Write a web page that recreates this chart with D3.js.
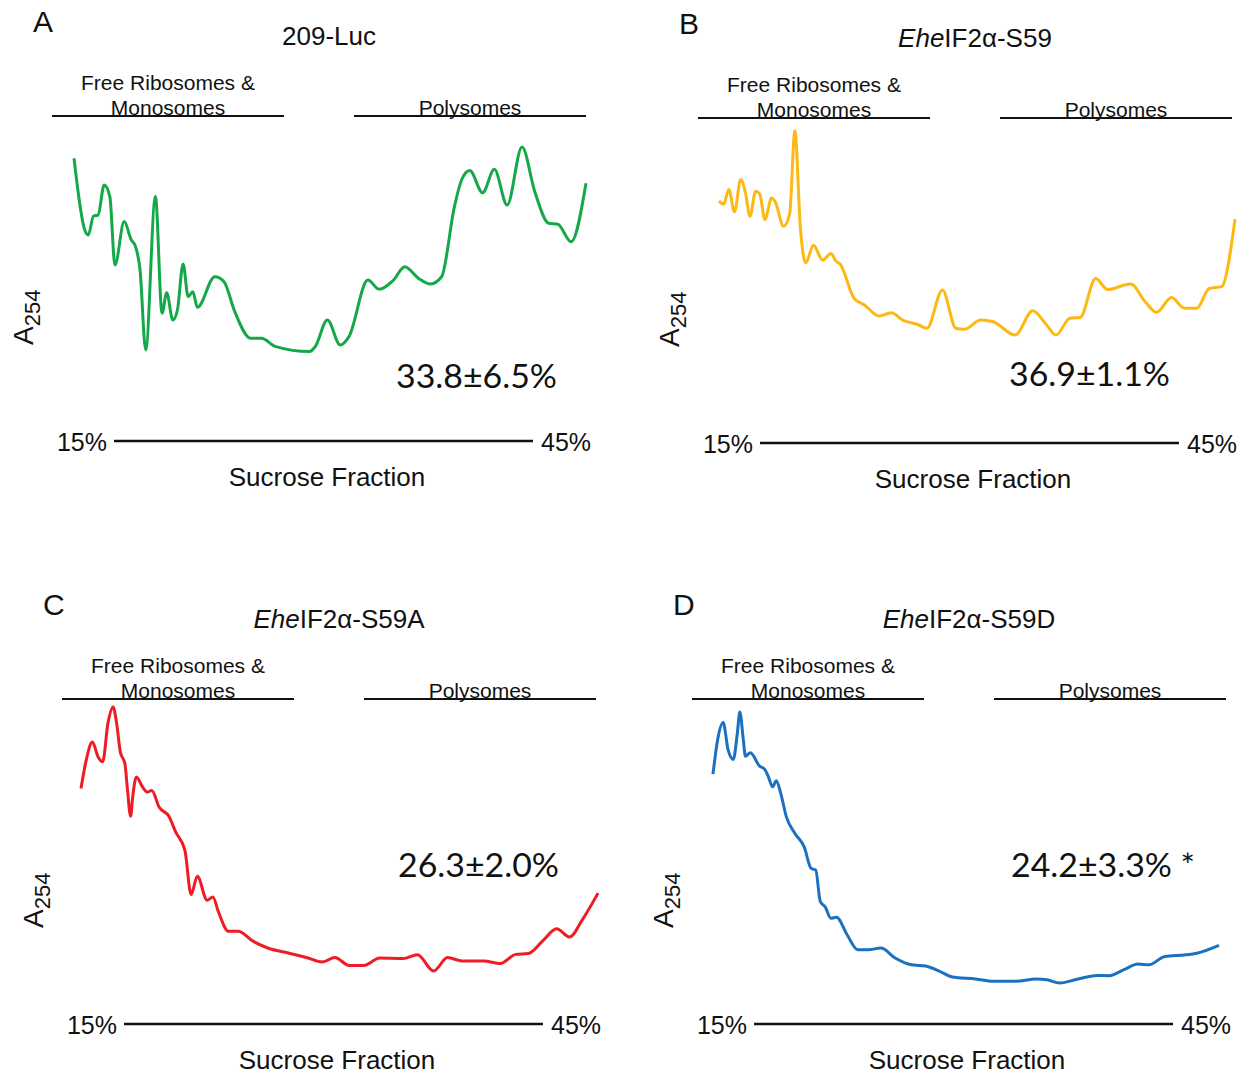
<!DOCTYPE html>
<html>
<head>
<meta charset="utf-8">
<script src="https://cdn.jsdelivr.net/npm/d3@7"></script>
<style>
  body { margin: 0; background: #fff; }
  text { font-family: "Liberation Sans", Arial, sans-serif; fill: #111; }
</style>
</head>
<body>
<div id="chart"></div>
<script>
// relative A254 traces, x = position along the gradient (0-100), y = relative absorbance (0-100)
luc209 = [[0,94.5],[2.1,59.5],[2.8,57.1],[3.8,66.3],[4.7,66.8],[5.9,81.5],[7.0,75.8],[8.0,42.4],[9.8,63.6],
  [11.2,54.6],[11.9,52.2],[12.9,40.0],[14.0,1.0],[15.9,75.8],[17.2,18.9],[18.1,28.9],[19.3,15.6],[20.2,20.5],
  [21.3,42.9],[22.3,27.0],[23.2,29.4],[24.1,21.8],[27.5,36.7],[29.3,34.3],[31.4,19.7],[34.5,6.7],[36.6,6.7],
  [39.4,2.6],[46.0,0.2],[47.1,2.6],[49.5,15.6],[52.0,3.4],[53.7,7.5],[57.4,35.1],[59.6,30.6],[62.4,35.1],
  [64.6,41.6],[67.3,35.9],[69.6,33.2],[71.8,36.7],[74.3,70.9],[75.7,83.9],[77.3,88.5],[79.8,77.7],[82.1,89.1],
  [84.6,71.7],[87.5,100],[90.0,78.2],[92.7,62.8],[94.5,62.3],[97.1,53.8],[100,82.3]]

s59 = [[0,65.6],[0.9,64.1],[1.9,71.3],[3.0,60.4],[4.2,76.2],[5.1,70.1],[6.0,58.2],[7.1,70.5],[7.9,69.0],
  [8.9,56.6],[10.2,67.2],[10.9,65.3],[12.5,53.3],[13.7,59.5],[14.7,100],[15.8,51.4],[16.8,35.4],[18.3,44.0],
  [20.1,36.7],[21.7,40.0],[22.6,36.4],[23.5,34.7],[26.2,17.9],[28.2,14.7],[31.0,9.3],[33.4,10.9],[35.8,7.0],
  [38.3,5.4],[40.3,3.3],[43.3,22.0],[45.9,3.3],[47.6,2.8],[50.7,7.3],[53.1,6.5],[57.4,0],[60.8,11.9],
  [63.5,4.9],[65.3,0],[68.0,8.2],[70.0,8.6],[73.0,27.7],[75.3,22.3],[79.8,25.0],[82.6,16.3],[84.8,11.1],
  [87.7,18.4],[90.2,13.1],[92.6,13.1],[95.0,22.8],[97.4,23.7],[100,56.8]]

s59A = [[0,69.1],[1.0,79.8],[2.2,86.7],[3.3,81.1],[4.2,79.3],[5.2,93.7],[6.2,100],[6.9,93.7],[7.6,83.0],
  [8.5,78.5],[9.0,68.4],[9.6,58.6],[10.0,65.9],[10.7,73.5],[11.9,69.7],[12.8,67.8],[13.7,68.4],[15.1,62.1],
  [17.0,58.6],[18.3,52.7],[20.1,45.7],[21.3,29.0],[22.5,35.9],[24.4,26.8],[25.5,28.0],[26.6,22.3],[28.5,15.1],
  [30.4,15.1],[33.2,11.4],[36.0,8.8],[40.1,6.8],[43.6,5.1],[46.7,3.4],[49.1,5.1],[51.9,2.1],[54.7,2.1],
  [57.8,4.9],[62.3,4.7],[65.1,6.2],[68.2,0],[70.9,5.1],[73.7,3.8],[77.9,3.8],[81.1,2.8],[84.1,6.3],
  [86.5,6.6],[89.3,11.4],[92.0,16.0],[94.5,12.9],[96.9,19.2],[100,29.5]]

s59D = [[0,77.1],[0.9,89.6],[2.0,96.1],[3.0,85.9],[4.0,82.5],[4.8,92.0],[5.3,100],[6.0,89.6],[6.4,83.7],
  [7.4,85.0],[9.2,80.0],[10.2,78.9],[10.9,76.3],[11.8,72.4],[12.5,74.6],[13.4,69.9],[14.5,61.3],[16.2,55.2],
  [18.0,50.3],[19.4,42.3],[20.3,41.7],[21.2,30.1],[22.2,28.0],[23.3,23.9],[24.4,24.3],[26.5,17.8],[28.6,12.3],
  [30.7,12.3],[33.2,12.9],[36.0,9.2],[39.2,6.7],[42.0,6.3],[44.8,4.3],[47.3,2.2],[51.9,1.5],[55.4,0.6],
  [59.6,0.6],[63.9,1.5],[66.0,1.2],[68.5,0],[71.6,1.2],[75.9,2.8],[78.3,2.7],[81.2,4.9],[84.0,7.0],
  [86.1,6.7],[89.3,9.8],[93.5,10.4],[95.6,11.0],[100,13.9]]

letters = ["A", "B", "C", "D"]
titleItalic = ["", "Ehe", "Ehe", "Ehe"]
titleRest = ["209-Luc", "IF2α-S59", "IF2α-S59A", "IF2α-S59D"]
polysomePct = ["33.8±6.5%", "36.9±1.1%", "26.3±2.0%", "24.2±3.3% *"]
traces = [luc209, s59, s59A, s59D]
colors = ["#14a84b", "#fdb913", "#ee1c24", "#1b70c2"]
gradientEnds = ["15%", "45%"]

// layout of each panel: offset, trace box (relative to panel), percent label box
layout = [
  {dx: 0,   dy: 0,   x: [74, 586], y: [352, 147], pct: [396, 388, 161]},
  {dx: 646, dy: 2,   x: [73, 589], y: [333, 129], pct: [363, 384, 161]},
  {dx: 10,  dy: 583, x: [71, 588], y: [388, 124], pct: [388, 294, 161]},
  {dx: 640, dy: 583, x: [73, 579], y: [400, 129], pct: [371, 294, 184]}
]

svg = d3.select("#chart")
  .append("svg")
  .attr("width", 1254)
  .attr("height", 1074)

letters.forEach(function(letter, i) {
  L = layout[i]
  g = svg.append("g").attr("transform", `translate(${L.dx}, ${L.dy})`)

  g.append("text").attr("x", 33).attr("y", 32)
    .style("font-size", "30px").text(letter)

  title = g.append("text").attr("x", 329).attr("y", 45)
    .attr("text-anchor", "middle").style("font-size", "26px")
  title.append("tspan").style("font-style", "italic").text(titleItalic[i])
  title.append("tspan").text(titleRest[i])

  // fraction bars
  g.append("text").attr("x", 168).attr("y", 90).attr("text-anchor", "middle")
    .style("font-size", "21px").text("Free Ribosomes &")
  g.append("text").attr("x", 168).attr("y", 115).attr("text-anchor", "middle")
    .style("font-size", "21px").text("Monosomes")
  g.append("text").attr("x", 470).attr("y", 115).attr("text-anchor", "middle")
    .style("font-size", "21px").text("Polysomes")
  g.selectAll(".bar")
    .data([[52, 284], [354, 586]])
    .join("line")
      .attr("x1", d => d[0]).attr("x2", d => d[1])
      .attr("y1", 116).attr("y2", 116)
      .style("stroke", "#111").style("stroke-width", 2.2)

  // trace
  x = d3.scaleLinear().domain([0, 100]).range(L.x)
  y = d3.scaleLinear().domain([0, 100]).range(L.y)
  line = d3.line()
    .x(d => x(d[0]))
    .y(d => y(d[1]))
    .curve(d3.curveMonotoneX)
  g.append("path")
    .datum(traces[i])
    .attr("d", line)
    .style("fill", "none")
    .style("stroke", colors[i])
    .style("stroke-width", 3)
    .style("stroke-linejoin", "round")

  // y label
  ylab = g.append("text")
    .attr("transform", "translate(33, 345) rotate(-90)")
    .style("font-size", "28px")
  ylab.append("tspan").text("A")
  ylab.append("tspan").attr("dy", 7).style("font-size", "22px").text("254")

  // percent in polysomes
  g.append("text")
    .attr("x", L.pct[0]).attr("y", L.pct[1])
    .attr("textLength", L.pct[2]).attr("lengthAdjust", "spacingAndGlyphs")
    .style("font-family", "Lato, 'Open Sans', sans-serif")
    .style("font-size", "33px")
    .text(polysomePct[i])

  // gradient axis
  g.append("line")
    .attr("x1", 114).attr("x2", 533).attr("y1", 441).attr("y2", 441)
    .style("stroke", "#111").style("stroke-width", 2.5)
  g.append("text").attr("x", 107).attr("y", 451).attr("text-anchor", "end")
    .style("font-size", "25px").text(gradientEnds[0])
  g.append("text").attr("x", 541).attr("y", 451)
    .style("font-size", "25px").text(gradientEnds[1])
  g.append("text").attr("x", 327).attr("y", 486).attr("text-anchor", "middle")
    .style("font-size", "26px").text("Sucrose Fraction")
})
</script>
</body>
</html>
